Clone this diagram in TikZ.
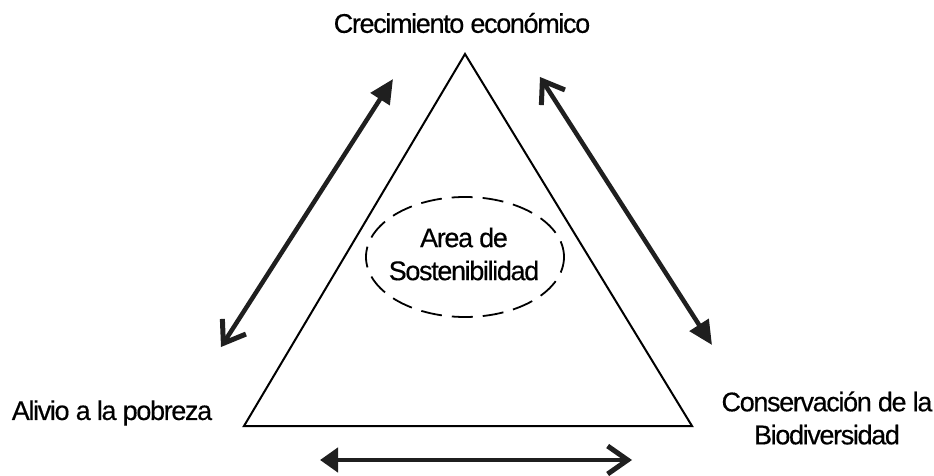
\documentclass[tikz,border=0pt]{standalone}
\usepackage{fontspec}
\setmainfont{Liberation Sans}[LetterSpace=-5, FakeBold=0.4]
\usetikzlibrary{arrows.meta}
\tikzset{
  label text/.style={font=\fontsize{27}{33}\selectfont, align=center, inner sep=0pt},
  edge/.style={line width=2pt, line join=miter},
  link/.style={line width=4.5pt, color=black!88},
  zone/.style={line width=1.8pt, dash pattern=on 21pt off 10pt, dash phase=5pt}
}
\begin{document}
\begin{tikzpicture}[x=1pt, y=-1pt,
  full/.tip={Triangle[length=24pt, width=22pt]},
  open/.tip={Straight Barb[length=20pt, width=28pt, line width=5pt]}]
\useasboundingbox (0,0) rectangle (934,476);
% corners of the triangle
\coordinate (top) at (465,54);
\coordinate (bl) at (244,426);
\coordinate (br) at (692,426);
\draw[edge] (top) -- (bl) -- (br) -- cycle;

% central dashed ellipse
\draw[zone] (465,257) ellipse [x radius=99, y radius=60];
\node[label text] (area) at (464,254) {Area de\\Sostenibilidad};

% corner labels
\node[label text] (crec) at (462,23) {Crecimiento económico};
\node[label text] (pob) at (112,413) {Alivio a la pobreza};
\node[label text] (bio) at (827,418) {Conservación de la\\Biodiversidad};

% two-way relation arrows
\coordinate (l1) at (221,347);
\coordinate (l2) at (393,79);
\coordinate (r1) at (540,77);
\coordinate (r2) at (712,345);
\coordinate (b1) at (320,460);
\coordinate (b2) at (632,460);
\draw[link, open-full] (l1) -- (l2);
\draw[link, open-full] (r1) -- (r2);
\draw[link, {Triangle[length=18pt, width=24pt]}-open] (b1) -- (b2);
\end{tikzpicture}
\end{document}
